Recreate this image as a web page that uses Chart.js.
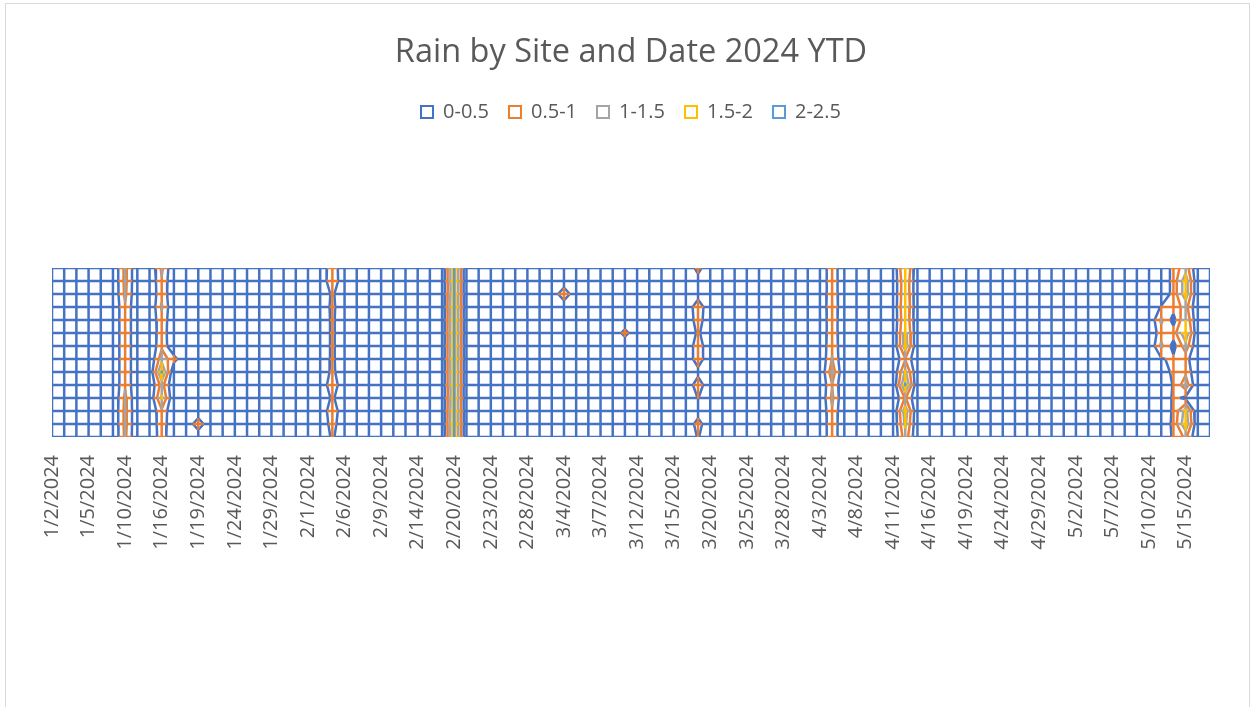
<!DOCTYPE html>
<html>
<head>
<meta charset="utf-8">
<title>Rain by Site and Date 2024 YTD</title>
<script src="https://cdn.jsdelivr.net/npm/chart.js@4.4.1/dist/chart.umd.min.js"></script>
<style>
  html, body { margin: 0; padding: 0; background: #ffffff; }
  #wrap { position: relative; width: 1252px; height: 707px; overflow: hidden; }
  #frame { position: absolute; left: 5px; top: 3px; width: 1245px; height: 800px; border: 1px solid #d9d9d9; box-sizing: border-box; }
  #rainChart { position: absolute; left: 0; top: 0; }
</style>
</head>
<body>
<div id="wrap">
  <div id="frame"></div>
  <canvas id="rainChart" width="1252" height="707"></canvas>
</div>
<script>
// Dates with readings (business days, Jan 2 - May 17)
const dates = [
  '1/2/2024','1/3/2024','1/4/2024','1/5/2024','1/8/2024','1/9/2024','1/10/2024','1/11/2024','1/12/2024','1/16/2024',
  '1/17/2024','1/18/2024','1/19/2024','1/22/2024','1/23/2024','1/24/2024','1/25/2024','1/26/2024','1/29/2024','1/30/2024',
  '1/31/2024','2/1/2024','2/2/2024','2/5/2024','2/6/2024','2/7/2024','2/8/2024','2/9/2024','2/12/2024','2/13/2024',
  '2/14/2024','2/15/2024','2/16/2024','2/20/2024','2/21/2024','2/22/2024','2/23/2024','2/26/2024','2/27/2024','2/28/2024',
  '2/29/2024','3/1/2024','3/4/2024','3/5/2024','3/6/2024','3/7/2024','3/8/2024','3/11/2024','3/12/2024','3/13/2024',
  '3/14/2024','3/15/2024','3/18/2024','3/19/2024','3/20/2024','3/21/2024','3/22/2024','3/25/2024','3/26/2024','3/27/2024',
  '3/28/2024','4/1/2024','4/2/2024','4/3/2024','4/4/2024','4/5/2024','4/8/2024','4/9/2024','4/10/2024','4/11/2024',
  '4/12/2024','4/15/2024','4/16/2024','4/17/2024','4/18/2024','4/19/2024','4/22/2024','4/23/2024','4/24/2024','4/25/2024',
  '4/26/2024','4/29/2024','4/30/2024','5/1/2024','5/2/2024','5/3/2024','5/6/2024','5/7/2024','5/8/2024','5/9/2024',
  '5/10/2024','5/13/2024','5/14/2024','5/15/2024','5/16/2024','5/17/2024'
];

// Rain (inches) per site, one value per date
const site01 = [0,0,0,0,0,0,1.15,0,0,1.1, 0,0,0,0,0,0,0,0,0,0, 0,0,0,0.9,0,0,0,0,0,0, 0,0,0,2.2,0,0,0,0,0,0, 0,0,0,0,0,0,0,0,0,0, 0,0,0,0.7,0,0,0,0,0,0, 0,0,0,0,0.9,0,0,0,0,0, 1.7,0,0,0,0,0,0,0,0,0, 0,0,0,0,0,0,0,0,0,0, 0,0,0.7,1.3,0,0];
const site02 = [0,0,0,0,0,0,1.15,0,0,0.95, 0,0,0,0,0,0,0,0,0,0, 0,0,0,0.95,0,0,0,0,0,0, 0,0,0,2.2,0,0,0,0,0,0, 0,0,0,0,0,0,0,0,0,0, 0,0,0,0.25,0,0,0,0,0,0, 0,0,0,0,0.9,0,0,0,0,0, 1.5,0,0,0,0,0,0,0,0,0, 0,0,0,0,0,0,0,0,0,0, 0,0,0.7,1.8,0,0];
const site03 = [0,0,0,0,0,0,1.1,0,0,0.9, 0,0,0,0,0,0,0,0,0,0, 0,0,0,0.6,0,0,0,0,0,0, 0,0,0,2.15,0,0,0,0,0,0, 0,0,0.97,0,0,0,0,0,0,0, 0,0,0,0.2,0,0,0,0,0,0, 0,0,0,0,0.9,0,0,0,0,0, 1.5,0,0,0,0,0,0,0,0,0, 0,0,0,0,0,0,0,0,0,0, 0,0,0.7,1.8,0,0];
const site04 = [0,0,0,0,0,0,0.95,0,0,1.05, 0,0,0,0,0,0,0,0,0,0, 0,0,0,0.65,0,0,0,0,0,0, 0,0,0,2.25,0,0,0,0,0,0, 0,0,0,0,0,0,0,0,0,0, 0,0,0,0.9,0,0,0,0,0,0, 0,0,0,0,0.95,0,0,0,0,0, 1.6,0,0,0,0,0,0,0,0,0, 0,0,0,0,0,0,0,0,0,0, 0,0.55,0.7,1.2,0,0];
const site05 = [0,0,0,0,0,0,0.95,0,0,0.9, 0,0,0,0,0,0,0,0,0,0, 0,0,0,0.62,0,0,0,0,0,0, 0,0,0,2.2,0,0,0,0,0,0, 0,0,0,0,0,0,0,0,0,0, 0,0,0,0.8,0,0,0,0,0,0, 0,0,0,0,0.9,0,0,0,0,0, 1.5,0,0,0,0,0,0,0,0,0, 0,0,0,0,0,0,0,0,0,0, 0,1.1,0.3,1.5,0,0];
const site06 = [0,0,0,0,0,0,0.95,0,0,0.85, 0,0,0,0,0,0,0,0,0,0, 0,0,0,0.62,0,0,0,0,0,0, 0,0,0,2.25,0,0,0,0,0,0, 0,0,0,0,0,0,0,0.72,0,0, 0,0,0,0.6,0,0,0,0,0,0, 0,0,0,0,0.9,0,0,0,0,0, 1.7,0,0,0,0,0,0,0,0,0, 0,0,0,0,0,0,0,0,0,0, 0,0.8,0.75,1.9,0,0];
const site07 = [0,0,0,0,0,0,0.95,0,0,0.9, 0,0,0,0,0,0,0,0,0,0, 0,0,0,0.62,0,0,0,0,0,0, 0,0,0,2.2,0,0,0,0,0,0, 0,0,0,0,0,0,0,0,0,0, 0,0,0,0.85,0,0,0,0,0,0, 0,0,0,0,0.95,0,0,0,0,0, 1.8,0,0,0,0,0,0,0,0,0, 0,0,0,0,0,0,0,0,0,0, 0,1.1,0.3,1.3,0,0];
const site08 = [0,0,0,0,0,0,0.95,0,0,1.3, 0.7,0,0,0,0,0,0,0,0,0, 0,0,0,0.62,0,0,0,0,0,0, 0,0,0,2.25,0,0,0,0,0,0, 0,0,0,0,0,0,0,0,0,0, 0,0,0,0.85,0,0,0,0,0,0, 0,0,0,0,1.02,0,0,0,0,0, 0.95,0,0,0,0,0,0,0,0,0, 0,0,0,0,0,0,0,0,0,0, 0,0.45,0.6,0.7,0,0];
const site09 = [0,0,0,0,0,0,0.95,0,0,2.1, 0,0,0,0,0,0,0,0,0,0, 0,0,0,0.65,0,0,0,0,0,0, 0,0,0,2.2,0,0,0,0,0,0, 0,0,0,0,0,0,0,0,0,0, 0,0,0,0.3,0,0,0,0,0,0, 0,0,0,0,1.3,0,0,0,0,0, 1.6,0,0,0,0,0,0,0,0,0, 0,0,0,0,0,0,0,0,0,0, 0,0,0.7,0.9,0,0];
const site10 = [0,0,0,0,0,0,0.95,0,0,1.2, 0,0,0,0,0,0,0,0,0,0, 0,0,0,0.9,0,0,0,0,0,0, 0,0,0,2.2,0,0,0,0,0,0, 0,0,0,0,0,0,0,0,0,0, 0,0,0,0.85,0,0,0,0,0,0, 0,0,0,0,0.98,0,0,0,0,0, 2.1,0,0,0,0,0,0,0,0,0, 0,0,0,0,0,0,0,0,0,0, 0,0,0.55,1.3,0,0];
const site11 = [0,0,0,0,0,0,1.1,0,0,1.6, 0,0,0,0,0,0,0,0,0,0, 0,0,0,0.6,0,0,0,0,0,0, 0,0,0,2.15,0,0,0,0,0,0, 0,0,0,0,0,0,0,0,0,0, 0,0,0,0.52,0,0,0,0,0,0, 0,0,0,0,1.1,0,0,0,0,0, 1.05,0,0,0,0,0,0,0,0,0, 0,0,0,0,0,0,0,0,0,0, 0,0,0.6,0.4,0,0];
const site12 = [0,0,0,0,0,0,1.15,0,0,0.9, 0,0,0,0,0,0,0,0,0,0, 0,0,0,0.9,0,0,0,0,0,0, 0,0,0,2.2,0,0,0,0,0,0, 0,0,0,0,0,0,0,0,0,0, 0,0,0,0.2,0,0,0,0,0,0, 0,0,0,0,0.95,0,0,0,0,0, 1.8,0,0,0,0,0,0,0,0,0, 0,0,0,0,0,0,0,0,0,0, 0,0,0.6,1.7,0,0];
const site13 = [0,0,0,0,0,0,1.15,0,0,0.85, 0,0,0.9,0,0,0,0,0,0,0, 0,0,0,0.75,0,0,0,0,0,0, 0,0,0,2.25,0,0,0,0,0,0, 0,0,0,0,0,0,0,0,0,0, 0,0,0,0.75,0,0,0,0,0,0, 0,0,0,0,0.9,0,0,0,0,0, 1.6,0,0,0,0,0,0,0,0,0, 0,0,0,0,0,0,0,0,0,0, 0,0,0.65,1.9,0,0];
const site14 = [0,0,0,0,0,0,1.1,0,0,0.8, 0,0,0,0,0,0,0,0,0,0, 0,0,0,0.6,0,0,0,0,0,0, 0,0,0,2.2,0,0,0,0,0,0, 0,0,0,0,0,0,0,0,0,0, 0,0,0,0.55,0,0,0,0,0,0, 0,0,0,0,0.9,0,0,0,0,0, 1.3,0,0,0,0,0,0,0,0,0, 0,0,0,0,0,0,0,0,0,0, 0,0,0.6,1.1,0,0];

const sites = [site01, site02, site03, site04, site05, site06, site07, site08, site09, site10, site11, site12, site13, site14];

const bandLabels = ['0-0.5', '0.5-1', '1-1.5', '1.5-2', '2-2.5'];
const bandLimits = [0.5, 1, 1.5, 2];
const bandColors = ['#4472C4', '#ED7D31', '#A5A5A5', '#FFC000', '#5B9BD5'];

function bandOf(v) {
    let b = 0;
    while (b < bandLimits.length && v >= bandLimits[b]) b++;
    return b;
}

// one point list per band, gaps (y: null) between pieces
const bandPoints = bandLabels.map(() => []);

function pushSeg(b, p, q) {
    bandPoints[b].push({ x: p.x, y: p.y }, { x: q.x, y: q.y }, { x: q.x, y: null });
}

// walk one wire of the grid and colour each piece by its band
function traceLine(points) {
    let runBand = -1, runStart = null, runEnd = null;
    const flush = () => { if (runBand >= 0) pushSeg(runBand, runStart, runEnd); };
    for (let i = 0; i < points.length - 1; i++) {
        const p = points[i], q = points[i + 1];
        const cuts = [0, 1];
        bandLimits.forEach(l => {
            if ((p.v - l) * (q.v - l) < 0) cuts.push((l - p.v) / (q.v - p.v));
        });
        cuts.sort((a, b) => a - b);
        for (let k = 0; k < cuts.length - 1; k++) {
            const t0 = cuts[k], t1 = cuts[k + 1];
            const b = bandOf(p.v + (q.v - p.v) * (t0 + t1) / 2);
            const s = { x: p.x + (q.x - p.x) * t0, y: p.y + (q.y - p.y) * t0 };
            const e = { x: p.x + (q.x - p.x) * t1, y: p.y + (q.y - p.y) * t1 };
            if (b === runBand) {
                runEnd = e;
            } else {
                flush();
                runBand = b; runStart = s; runEnd = e;
            }
        }
    }
    flush();
}

sites.forEach((s, r) => traceLine(s.map((v, c) => ({ x: c, y: r, v }))));
dates.forEach((d, c) => traceLine(sites.map((s, r) => ({ x: c, y: r, v: s[c] }))));

// contour lines (marching squares), drawn in the colour of the band below the level
for (let r = 0; r < sites.length - 1; r++) {
    for (let c = 0; c < dates.length - 1; c++) {
        const a = sites[r][c], b = sites[r][c + 1], d = sites[r + 1][c], e = sites[r + 1][c + 1];
        bandLimits.forEach((L, k) => {
            const cross = (v0, v1, x0, y0, x1, y1) => {
                if ((v0 - L) * (v1 - L) >= 0) return null;
                const t = (L - v0) / (v1 - v0);
                return { x: x0 + (x1 - x0) * t, y: y0 + (y1 - y0) * t };
            };
            const top = cross(a, b, c, r, c + 1, r);
            const right = cross(b, e, c + 1, r, c + 1, r + 1);
            const bottom = cross(d, e, c, r + 1, c + 1, r + 1);
            const left = cross(a, d, c, r, c, r + 1);
            const hits = [top, right, bottom, left].filter(Boolean);
            if (hits.length === 2) {
                pushSeg(k, hits[0], hits[1]);
            } else if (hits.length === 4) {
                const m = (a + b + d + e) / 4;
                if ((a >= L) === (m >= L)) { pushSeg(k, top, right); pushSeg(k, bottom, left); }
                else { pushSeg(k, top, left); pushSeg(k, right, bottom); }
            }
        });
    }
}

const fontFamily = "'Open Sans', 'Liberation Sans', sans-serif";
const textColor = '#595959';

const datasets = bandLabels.map((label, b) => ({
    label: label,
    data: bandPoints[b],
    showLine: true,
    spanGaps: false,
    borderColor: bandColors[b],
    backgroundColor: '#ffffff',
    borderWidth: 2.5,
    pointRadius: 0,
    order: bandLabels.length - b // higher bands drawn on top
}));

new Chart(document.getElementById('rainChart'), {
    type: 'scatter',
    data: { datasets: datasets },
    options: {
        responsive: false,
        animation: false,
        events: [],
        layout: { padding: { left: 52, right: 42, top: 0, bottom: 0 } },
        plugins: {
            title: {
                display: true,
                text: 'Rain by Site and Date 2024 YTD',
                color: textColor,
                font: { family: fontFamily, size: 32.5, weight: 'normal', lineHeight: 1.2 },
                padding: { top: 33, bottom: 10 }
            },
            subtitle: {
                display: true,
                text: '',
                weight: 100,
                font: { size: 10, lineHeight: 1 },
                padding: { top: 126, bottom: 0 }
            },
            legend: {
                display: true,
                position: 'top',
                labels: {
                    boxWidth: 12,
                    boxHeight: 12,
                    padding: 20,
                    color: textColor,
                    font: { family: fontFamily, size: 20 },
                    generateLabels: chart => chart.data.datasets.map((ds, i) => ({
                        text: ds.label,
                        fillStyle: '#ffffff',
                        strokeStyle: ds.borderColor,
                        lineWidth: 2,
                        fontColor: textColor,
                        hidden: false,
                        datasetIndex: i
                    }))
                }
            },
            tooltip: { enabled: false }
        },
        scales: {
            x: {
                type: 'linear',
                position: 'bottom',
                min: 0,
                max: dates.length - 1,
                grid: { display: false, drawTicks: false },
                border: { display: false },
                afterBuildTicks: scale => {
                    scale.ticks = dates.map((d, i) => ({ value: i })).filter(t => t.value % 3 === 0);
                },
                afterFit: scale => {
                    scale.paddingLeft = 0;
                    scale.paddingRight = 0;
                    scale.height = 270;
                },
                ticks: {
                    autoSkip: false,
                    minRotation: 90,
                    maxRotation: 90,
                    padding: 18,
                    color: textColor,
                    font: { family: fontFamily, size: 20 },
                    callback: value => dates[value]
                }
            },
            y: {
                type: 'linear',
                display: false,
                min: 0,
                max: sites.length - 1,
                reverse: true
            }
        }
    }
});
</script>
</body>
</html>
